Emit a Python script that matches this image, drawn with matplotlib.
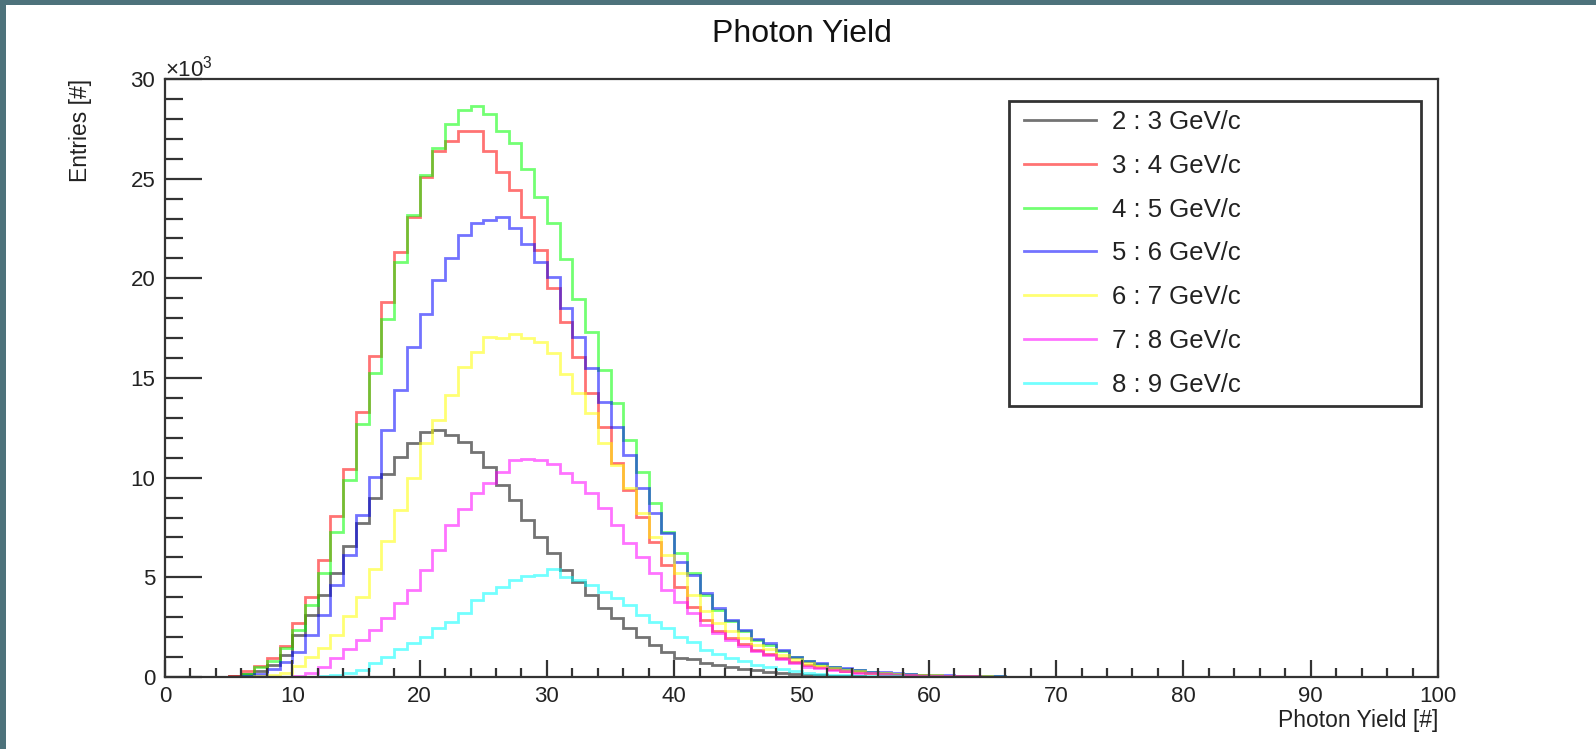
import numpy as np
import matplotlib
matplotlib.use('Agg')
import matplotlib.pyplot as plt
from matplotlib.ticker import MultipleLocator, FormatStrFormatter
from matplotlib.patches import Rectangle
from matplotlib.lines import Line2D
from matplotlib.legend_handler import HandlerLine2D

plt.rcParams['font.family'] = ['Liberation Sans', 'DejaVu Sans']
plt.rcParams['mathtext.fontset'] = 'custom'
plt.rcParams['mathtext.rm'] = 'Liberation Sans'

# 100 bins of width 1 between 0 and 100
edges = np.arange(0, 101, 1)

labels = ['2 : 3 GeV/c', '3 : 4 GeV/c', '4 : 5 GeV/c', '5 : 6 GeV/c',
          '6 : 7 GeV/c', '7 : 8 GeV/c', '8 : 9 GeV/c']
colors = ['black', 'red', (0, 1, 0), 'blue', 'yellow', 'magenta', 'cyan']

# entries per bin in units of 10^3, first value belongs to bin *_start
black_start = 5
black = [0.05, 0.15, 0.3, 0.6, 1.1, 2.11, 3.1, 4.11, 5.2, 6.59, 7.71, 9.0, 10.18,
         11.05, 11.72, 12.31, 12.4, 12.14, 11.81, 11.3, 10.52, 9.63, 8.87, 7.88,
         7.04, 6.21, 5.37, 4.78, 4.11, 3.45, 2.95, 2.44, 2.02, 1.61, 1.27, 0.97,
         0.92, 0.69, 0.6, 0.5, 0.42, 0.33, 0.26, 0.2, 0.15, 0.11, 0.08, 0.06,
         0.04, 0.03, 0.02, 0.01]

red_start = 5
red = [0.05, 0.3, 0.55, 0.97, 1.57, 2.69, 4.0, 5.87, 8.1, 10.42, 13.28, 16.1,
       18.83, 21.3, 23.07, 25.1, 26.41, 26.89, 27.4, 27.4, 26.41, 25.35, 24.43,
       23.07, 21.42, 19.5, 17.83, 16.04, 14.23, 12.56, 10.72, 9.38, 8.04, 6.79,
       5.62, 4.53, 3.53, 2.86, 2.3, 1.95, 1.65, 1.35, 1.15, 0.95, 0.75, 0.6, 0.5,
       0.38, 0.3, 0.24, 0.19, 0.15, 0.12, 0.1, 0.08, 0.06, 0.05, 0.04, 0.03, 0.02]

green_start = 5
green = [0.02, 0.15, 0.49, 0.8, 1.44, 2.36, 3.61, 5.2, 7.29, 9.88, 12.68, 15.24,
         17.95, 20.8, 23.18, 25.2, 26.56, 27.73, 28.45, 28.65, 28.23, 27.4, 26.81,
         25.47, 24.1, 22.76, 20.97, 18.97, 17.29, 15.4, 13.73, 11.89, 10.3, 8.71,
         7.29, 6.2, 5.2, 4.11, 3.36, 2.8, 2.3, 1.85, 1.6, 1.3, 1.0, 0.78, 0.66,
         0.5, 0.42, 0.33, 0.26, 0.21, 0.17, 0.14, 0.11, 0.09, 0.07, 0.06, 0.05,
         0.04, 0.03, 0.02]

blue_start = 6
blue = [0.05, 0.15, 0.4, 0.77, 1.27, 2.11, 3.11, 4.61, 6.12, 8.13, 10.05, 12.39,
        14.4, 16.57, 18.2, 19.92, 21.0, 22.18, 22.76, 22.93, 23.1, 22.51, 21.71,
        20.81, 20.09, 18.5, 17.08, 15.49, 13.81, 12.56, 11.14, 9.47, 8.21, 7.21,
        5.78, 5.12, 4.2, 3.45, 2.86, 2.36, 1.89, 1.69, 1.36, 1.02, 0.8, 0.69,
        0.52, 0.44, 0.35, 0.27, 0.23, 0.18, 0.15, 0.12, 0.1, 0.08, 0.06, 0.05,
        0.04, 0.03, 0.02, 0.02]

yellow_start = 7
yellow = [0.03, 0.1, 0.18, 0.57, 1.02, 1.44, 2.11, 3.07, 4.03, 5.42, 6.82, 8.38,
          10.0, 11.72, 12.89, 14.15, 15.57, 16.32, 17.08, 17.0, 17.2, 17.0, 16.83,
          16.24, 15.19, 14.23, 13.23, 11.72, 10.64, 9.47, 8.21, 7.04, 6.12, 5.2,
          4.1, 3.3, 2.7, 2.3, 1.95, 1.6, 1.4, 1.12, 0.88, 0.68, 0.57, 0.44, 0.36,
          0.28, 0.22, 0.18, 0.14, 0.12, 0.1, 0.08, 0.06, 0.05, 0.04, 0.03, 0.02]

magenta_start = 9
magenta = [0.02, 0.05, 0.18, 0.52, 0.94, 1.39, 1.86, 2.36, 2.94, 3.69, 4.36, 5.37,
           6.37, 7.63, 8.41, 9.22, 9.72, 10.3, 10.89, 10.95, 10.89, 10.68, 10.22,
           9.8, 9.22, 8.46, 7.63, 6.7, 6.04, 5.2, 4.36, 3.78, 3.19, 2.6, 2.2, 1.85,
           1.55, 1.3, 1.1, 0.88, 0.68, 0.52, 0.44, 0.34, 0.28, 0.22, 0.18, 0.14,
           0.11, 0.09, 0.07, 0.06, 0.05, 0.04, 0.03, 0.02, 0.02]

cyan_start = 11
cyan = [0.02, 0.05, 0.08, 0.18, 0.35, 0.69, 1.02, 1.39, 1.69, 2.02, 2.44, 2.77,
        3.19, 3.86, 4.2, 4.53, 4.87, 5.07, 5.12, 5.4, 5.03, 4.87, 4.62, 4.28, 3.95,
        3.61, 3.11, 2.77, 2.44, 2.02, 1.77, 1.35, 1.15, 0.95, 0.8, 0.62, 0.5, 0.4,
        0.3, 0.22, 0.17, 0.12, 0.09, 0.07, 0.05, 0.04, 0.03, 0.02]

series = [(black_start, black), (red_start, red), (green_start, green),
          (blue_start, blue), (yellow_start, yellow), (magenta_start, magenta),
          (cyan_start, cyan)]

W, H = 1596, 749
fig = plt.figure(figsize=(W / 100, H / 100), dpi=100, facecolor='#4d727b')
fig.patches.append(Rectangle((6 / W, 0), 1, 1 - 5 / H, transform=fig.transFigure,
                             facecolor='white', edgecolor='none', zorder=-1))

ax = fig.add_axes([165 / W, 1 - 677 / H, (1438 - 165) / W, (677 - 79) / H])

handles = []
for (start, vals), col, lab in zip(series, colors, labels):
    counts = np.zeros(len(edges) - 1)
    counts[start:start + len(vals)] = vals
    ax.stairs(counts, edges, color=col, alpha=0.55, lw=2)
    handles.append(Line2D([], [], color=col, alpha=0.55, lw=2, label=lab))

ax.set_xlim(0, 100)
ax.set_ylim(0, 30)
ax.xaxis.set_major_locator(MultipleLocator(10))
ax.xaxis.set_minor_locator(MultipleLocator(2))
ax.yaxis.set_major_locator(MultipleLocator(5))
ax.yaxis.set_minor_locator(MultipleLocator(1))
ax.yaxis.set_major_formatter(FormatStrFormatter('%d'))

axcol = '#333333'
for sp in ax.spines.values():
    sp.set_color(axcol)
    sp.set_linewidth(1.6)
ax.tick_params(which='both', direction='in', top=False, right=False,
               colors=axcol, width=1.6, labelsize=16, labelcolor='#222222')
ax.tick_params(axis='y', which='major', length=26.5, pad=7)
ax.tick_params(axis='y', which='minor', length=13)
ax.tick_params(axis='x', which='major', length=12.5, pad=6.5)
ax.tick_params(axis='x', which='minor', length=6.5)

ax.text(0, 0.996, r'$\times$10$^{3}$', transform=ax.transAxes, ha='left',
        va='bottom', fontsize=16, color='#222222')

ax.set_xlabel('Photon Yield [#]', fontsize=16.5, color='#222222', ha='right')
ax.xaxis.set_label_coords(1.0, -0.072)
ax.xaxis.label.set_va('center')
ax.set_ylabel('Entries [#]', fontsize=16.5, color='#222222', ha='right')
ax.yaxis.set_label_coords(-0.066, 1.0)
ax.yaxis.label.set_va('center')

fig.text(802 / W, 1 - 34 / H, 'Photon Yield', ha='center', va='center',
         fontsize=23, color='#111111')

leg = ax.legend(handles=handles, loc='upper left',
                bbox_to_anchor=(0.663, 0.963, 0.3236, 0),
                mode='expand', borderaxespad=0, fontsize=18.5, frameon=True,
                fancybox=False, edgecolor=axcol, framealpha=1,
                handlelength=3.03, handletextpad=0.62, labelspacing=0.77,
                borderpad=0.35,
                handler_map={Line2D: HandlerLine2D(xpad=0.23)})
leg.get_frame().set_linewidth(2)
for t in leg.get_texts():
    t.set_color('#222222')

fig.savefig('out.png', dpi=100, facecolor=fig.get_facecolor())
